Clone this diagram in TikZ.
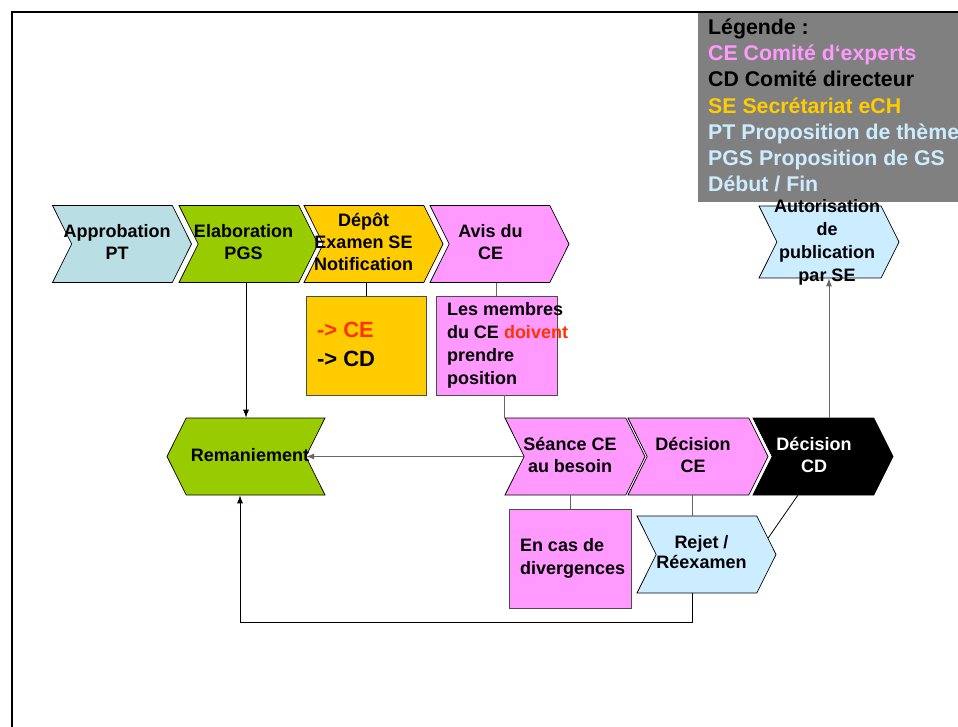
\documentclass[tikz,border=0pt]{standalone}
\usepackage{fontspec}
\setmainfont{Liberation Sans}
\usetikzlibrary{shapes.symbols, arrows.meta}
\definecolor{ptblue}{RGB}{185,222,228}
\definecolor{endblue}{RGB}{204,236,255}
\definecolor{pgsgreen}{RGB}{153,204,0}
\definecolor{seorange}{RGB}{255,204,0}
\definecolor{cepink}{RGB}{255,153,255}
\definecolor{alertred}{RGB}{255,51,0}
\definecolor{leggray}{RGB}{128,128,128}
\newcommand{\chevtext}[2][-5pt]{\raisebox{-.25em}[0pt][0pt]{\makebox[0pt]{\kern#1\kern#1\begin{tabular}{@{}c@{}}#2\end{tabular}}}}
\newcommand{\boxtext}[2]{\raisebox{-.25em}[0pt][0pt]{\makebox[#1][l]{\begin{tabular}{@{}l@{}}#2\end{tabular}}}}
\begin{document}
\begin{tikzpicture}[x=1pt, y=-1pt, >={Latex[length=8pt,width=6pt]}, chev_node/.style={signal, signal to=east, signal from=west, signal pointer angle=127, draw=black, line width=0.7pt, inner sep=0pt, minimum width=139pt, minimum height=77pt, font=\bfseries\fontsize{18}{22}\selectfont}, back_node/.style={chev_node, signal to=west, signal from=east}, box_node/.style={rectangle, draw=black!70, line width=0.7pt, inner sep=0pt, minimum width=121pt, minimum height=99pt, font=\bfseries\fontsize{18}{23}\selectfont}, dark_line/.style={black, line width=0.8pt}, gray_line/.style={black!60, line width=1pt}]
				\useasboundingbox (0,0) rectangle (958,727);
				\node[rectangle, fill=leggray, inner sep=0pt, minimum width=260pt, minimum height=189pt, anchor=north west, font=\bfseries\fontsize{21.3}{26.3}\selectfont] (16) at (698,13) {\boxtext{240pt}{Légende :\\\textcolor{cepink}{CE Comité d‘experts}\\CD Comité directeur\\\textcolor{seorange}{SE Secrétariat eCH}\\\textcolor{endblue}{PT Proposition de thème}\\\textcolor{endblue}{PGS Proposition de GS}\\\textcolor{endblue}{Début / Fin}}};
				\draw[line width=2pt] (12,727) -- (12,12) -- (958,12);
				\node[chev_node, fill=ptblue] (1) at (122,244) {\chevtext{Approbation\\PT}};
				\node[chev_node, fill=pgsgreen] (2) at (248.5,244) {\chevtext{Elaboration\\PGS}};
				\node[chev_node, fill=seorange] (3) at (373.5,244) {\chevtext[-10pt]{Dépôt\\Examen SE\\Notification}};
				\node[chev_node, fill=cepink] (4) at (499.5,244) {\chevtext[-9pt]{Avis du\\CE}};
				\node[box_node, fill=seorange, minimum width=120pt, font=\bfseries\fontsize{22}{29}\selectfont] (5) at (366,345.5) {\boxtext{98pt}{\textcolor{alertred}{-> CE}\\-> CD}};
				\node[box_node, fill=cepink] (6) at (496.5,345.5) {\boxtext{99pt}{Les membres\\du CE \textcolor{alertred}{doivent}\\prendre\\position}};
				\node[back_node, fill=pgsgreen, minimum width=158pt] (7) at (246,456.5) {\chevtext[4pt]{Remaniement}};
				\node[chev_node, fill=cepink, minimum width=140pt] (8) at (575,456.5) {\chevtext{Séance CE\\au besoin}};
				\node[chev_node, fill=cepink, minimum width=140pt] (9) at (698,456.5) {\chevtext{Décision\\CE}};
				\node[chev_node, fill=black, text=white, minimum width=140pt] (10) at (823,456.5) {\chevtext[-9pt]{Décision\\CD}};
				\node[box_node, fill=cepink, minimum width=122pt] (11) at (570,558.5) {\boxtext{100pt}{En cas de\\divergences}};
				\node[chev_node, fill=endblue, font=\bfseries\fontsize{18}{20}\selectfont] (12) at (706.5,554.5) {\chevtext{Rejet /\\Réexamen}};
				\node[chev_node, fill=endblue, minimum width=140pt, minimum height=72pt, font=\bfseries\fontsize{18}{23}\selectfont] (13) at (829,242) {\chevtext[-2pt]{Autorisation\\de\\publication\\par SE}};
				\coordinate (14) at (240,622);
				\coordinate (15) at (692,622);
				\draw[dark_line, ->] (2.south -| 7.north) -- (7.north);
				\draw[dark_line] (3.south -| 5.north) -- (5.north);
				\draw[gray_line] (4.south -| 6.north) -- (6.north);
				\draw[gray_line] (6.south -| 8.151) -- (8.151);
				\draw[gray_line, ->] (8.180) -- (7.0);
				\draw[gray_line] (8.south -| 11.north) -- (11.north);
				\draw[gray_line] (9.south -| 15) -- (15 |- 12.north);
				\draw[dark_line, ->] (15 |- 12.south) -- (15) -- (14) -- (14 |- 7.south);
				\draw[dark_line] (10.-123) -- (12.15);
				\draw[gray_line, ->] (10.north -| 13.south) -- (13.south);
			\end{tikzpicture}
\end{document}
